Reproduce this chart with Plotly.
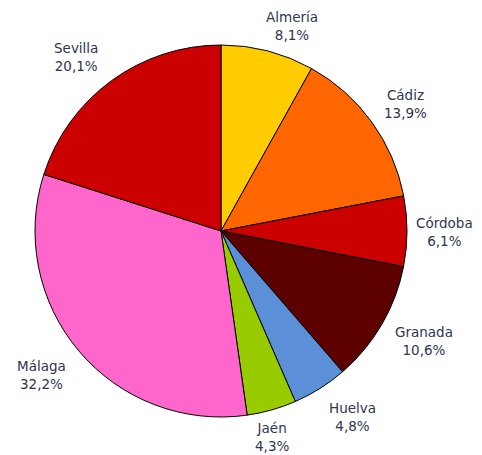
import math
import plotly.graph_objects as go

# Provincias de Andalucía, en orden horario desde las 12
provincias = ["Almería", "Cádiz", "Córdoba", "Granada", "Huelva", "Jaén", "Málaga", "Sevilla"]
porcentajes = [8.1, 13.9, 6.1, 10.6, 4.8, 4.3, 32.2, 20.1]
etiquetas_pct = ["8,1%", "13,9%", "6,1%", "10,6%", "4,8%", "4,3%", "32,2%", "20,1%"]
colores = ["#FFCC00", "#FF6600", "#CC0000", "#5C0000", "#5B8FD8", "#99CC00", "#FF66CC", "#CC0000"]

# desplazamiento (px) de cada etiqueta respecto al borde del sector
desp_x = [24, 34, 38, 42, 32, 0, -37, -35]
desp_y = [-25, -18, 1, 17, 29, 27, 24, -24]

W, H = 482, 455
# la página añade 8px de margen, se compensa aquí
cx, cy, R = 213, 232, 186   # centro (x desde la izquierda, y desde abajo) y radio en px

fig = go.Figure(go.Pie(
    labels=provincias,
    values=porcentajes,
    sort=False,
    direction="clockwise",
    rotation=0,
    marker=dict(colors=colores, line=dict(color="#000000", width=1)),
    textinfo="none",
    hoverinfo="label+percent",
    showlegend=False,
    domain=dict(x=[(cx - R) / W, (cx + R) / W], y=[(cy - R) / H, (cy + R) / H]),
))

# etiquetas fuera del sector, sin líneas guía
total = sum(porcentajes)
acum = 0
for i, (nombre, v, txt) in enumerate(zip(provincias, porcentajes, etiquetas_pct)):
    ang = 2 * math.pi * (acum + v / 2) / total
    acum += v
    fig.add_annotation(
        x=(cx + R * math.sin(ang)) / W, y=(cy + R * math.cos(ang)) / H,
        xref="paper", yref="paper", text=nombre + "<br>" + txt,
        xshift=desp_x[i], yshift=-desp_y[i],
        showarrow=False, xanchor="center", yanchor="middle",
        font=dict(family="DejaVu Sans", size=13.5, color="#2E3550"),
    )

fig.update_layout(
    width=W, height=H,
    margin=dict(l=0, r=0, t=0, b=0),
    paper_bgcolor="white", plot_bgcolor="white",
)

fig.write_html("out.html")
